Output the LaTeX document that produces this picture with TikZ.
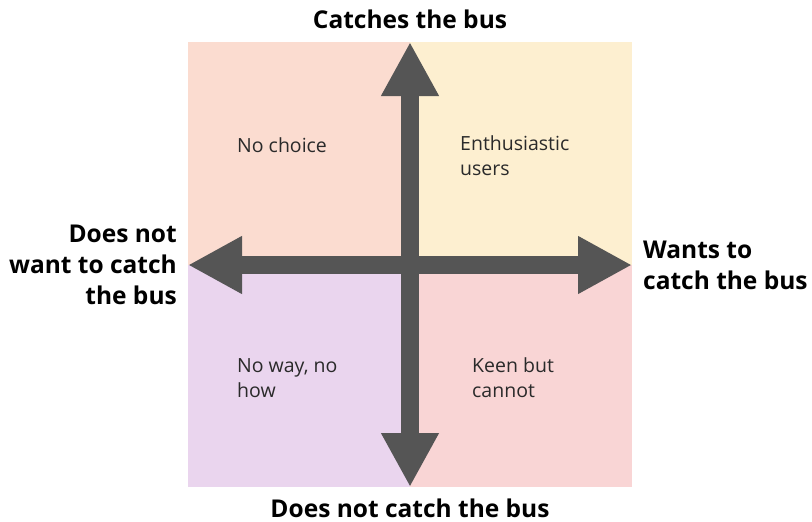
\documentclass[tikz,border=0pt]{standalone}
\usepackage{fontspec}
\setmainfont{Open Sans}
\usetikzlibrary{arrows.meta}
\definecolor{qtl}{HTML}{FBDCD0}
\definecolor{qtr}{HTML}{FDEFD0}
\definecolor{qbl}{HTML}{EAD5EE}
\definecolor{qbr}{HTML}{F9D5D5}
\definecolor{arrowgray}{HTML}{555555}
\definecolor{txt}{HTML}{2A2A2A}
\begin{document}
\begin{tikzpicture}[x=1pt,y=-1pt,
  axis/.style={draw=arrowgray,line width=18pt,
    {Triangle[length=54pt,width=54pt]}-{Triangle[length=54pt,width=54pt]}},
  biglabel/.style={inner sep=0pt,font=\fontsize{24.5}{31}\selectfont\bfseries,text=black},
  quad/.style={inner sep=0pt,font=\fontsize{19.5}{25}\selectfont,text=txt,align=left,anchor=base west}]
\useasboundingbox (0,0) rectangle (812,522);
\fill[qtl] (188,42) rectangle (410,265);
\fill[qtr] (410,42) rectangle (632,265);
\fill[qbl] (188,265) rectangle (410,487);
\fill[qbr] (410,265) rectangle (632,487);
\coordinate (t) at (410,42);
\coordinate (b) at (410,487);
\coordinate (l) at (188,265);
\coordinate (r) at (632,265);
\draw[axis] (l) -- (r);
\draw[axis] (b) -- (t);
\node[biglabel,anchor=base] (top) at (410,28) {Catches the bus};
\node[biglabel,anchor=base,text depth=0pt] (bot) at (410,517) {Does not catch the bus};
\node[biglabel,anchor=base east,align=right] (left) at (177,304) {Does not\\want to catch\\the bus};
\node[biglabel,anchor=base west,align=left] (right) at (643,289) {Wants to\\catch the bus};
\node[quad] (q1) at (237,152) {No choice};
\node[quad] (q2) at (460,175) {Enthusiastic\\users};
\node[quad] (q3) at (237,397) {No way, no\\how};
\node[quad] (q4) at (472,397) {Keen but\\cannot};
\end{tikzpicture}
\end{document}
